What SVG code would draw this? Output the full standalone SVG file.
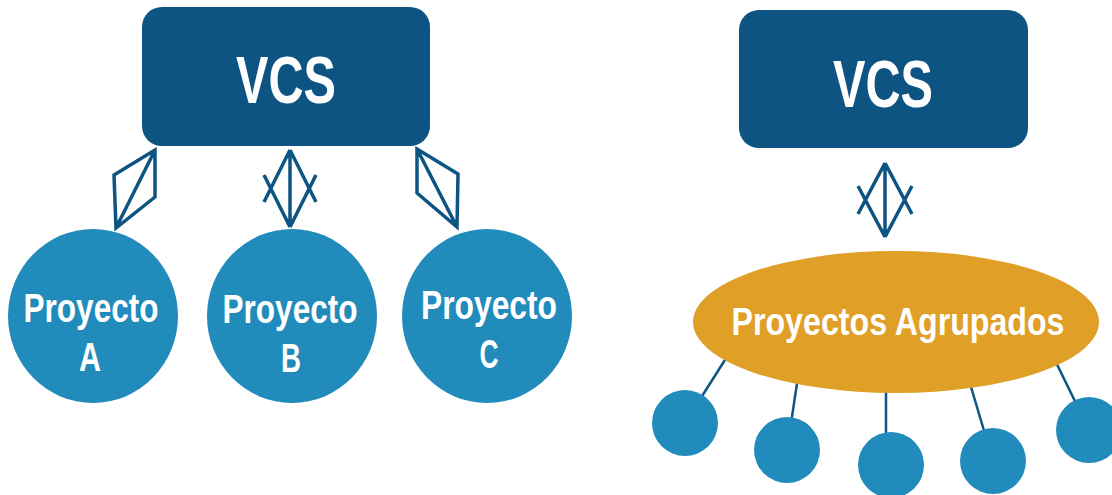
<svg xmlns="http://www.w3.org/2000/svg" width="1112" height="495" viewBox="0 0 1112 495">
<style>
.box{fill:#0e5482}
.proj{fill:#218bbb}
.grp{fill:#e09f27}
.lbl{fill:#ffffff;font-family:"Liberation Sans",Arial,sans-serif;font-weight:bold;text-anchor:middle}
.sym{fill:none;stroke:#0e5482;stroke-width:3.5;stroke-linejoin:miter}
.link{stroke:#0e5482;stroke-width:2.5;fill:none}
</style>
<rect width="1112" height="495" fill="#ffffff"/>
<g id="connectors">
<path class="sym" d="M155,150 L114,175 L116,228 L155,197 Z M155,150 L116,228"/>
<path class="sym" d="M290,150 L290,227 M290,150 L264,202 M290,227 L264,175 M290,150 L316,202 M290,227 L316,175"/>
<path class="sym" d="M417,149 L458,174 L457,227 L417,193 Z M417,149 L457,227"/>
<path class="sym" d="M885,163 L885,237 M885,163 L858,214 M885,237 L858,186 M885,163 L912,214 M885,237 L912,186"/>
<line class="link" x1="685" y1="423" x2="730" y2="352"/>
<line class="link" x1="787" y1="450" x2="799" y2="370"/>
<line class="link" x1="886" y1="465" x2="886" y2="380"/>
<line class="link" x1="993" y1="461" x2="966" y2="370"/>
<line class="link" x1="1089" y1="430" x2="1050" y2="350"/>
</g>
<g id="vcs-left">
<rect class="box" x="142" y="7" width="288" height="139" rx="20"/>
<text class="lbl" x="286" y="103" font-size="67" textLength="100" lengthAdjust="spacingAndGlyphs">VCS</text>
</g>
<g id="proyecto-a">
<ellipse class="proj" cx="93" cy="316" rx="85" ry="87"/>
<text class="lbl" x="91" y="322" font-size="40" textLength="135" lengthAdjust="spacingAndGlyphs">Proyecto</text>
<text class="lbl" x="90" y="371" font-size="40" textLength="22" lengthAdjust="spacingAndGlyphs">A</text>
</g>
<g id="proyecto-b">
<ellipse class="proj" cx="292" cy="316" rx="85" ry="87"/>
<text class="lbl" x="290" y="323" font-size="40" textLength="135" lengthAdjust="spacingAndGlyphs">Proyecto</text>
<text class="lbl" x="291" y="372" font-size="40" textLength="20" lengthAdjust="spacingAndGlyphs">B</text>
</g>
<g id="proyecto-c">
<ellipse class="proj" cx="487" cy="316" rx="85" ry="87"/>
<text class="lbl" x="489" y="319" font-size="40" textLength="136" lengthAdjust="spacingAndGlyphs">Proyecto</text>
<text class="lbl" x="489" y="368" font-size="40" textLength="19" lengthAdjust="spacingAndGlyphs">C</text>
</g>
<g id="vcs-right">
<rect class="box" x="739" y="10" width="289" height="138" rx="20"/>
<text class="lbl" x="883" y="107" font-size="67" textLength="100" lengthAdjust="spacingAndGlyphs">VCS</text>
</g>
<g id="sub-1"><circle class="proj" cx="685" cy="423" r="33"/></g>
<g id="sub-2"><circle class="proj" cx="787" cy="450" r="33"/></g>
<g id="sub-3"><circle class="proj" cx="891" cy="465" r="33"/></g>
<g id="sub-4"><circle class="proj" cx="993" cy="461" r="33"/></g>
<g id="sub-5"><circle class="proj" cx="1089" cy="430" r="33"/></g>
<g id="proyectos-agrupados">
<ellipse class="grp" cx="896" cy="322" rx="203" ry="71"/>
<text class="lbl" x="898" y="335" font-size="39" textLength="333" lengthAdjust="spacingAndGlyphs">Proyectos Agrupados</text>
</g>
</svg>
